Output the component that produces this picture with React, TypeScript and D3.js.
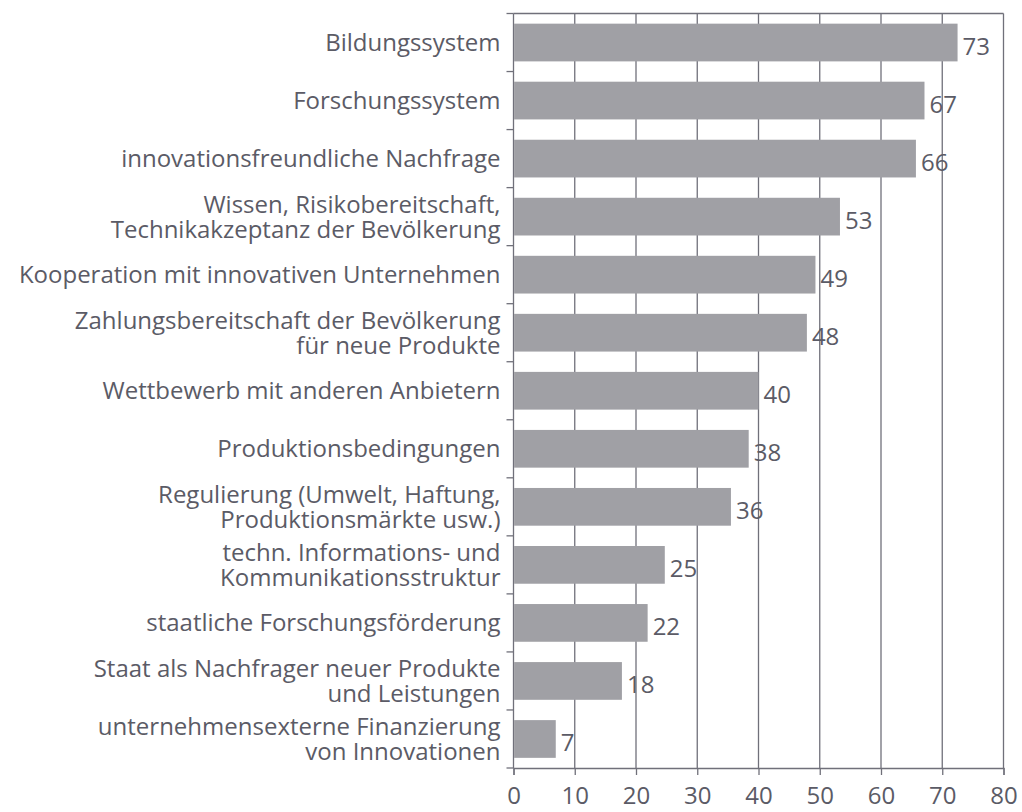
import * as d3 from 'd3';
import React, { useEffect, useRef } from 'react';

const categories = [
  ['Bildungssystem'],
  ['Forschungssystem'],
  ['innovationsfreundliche Nachfrage'],
  ['Wissen, Risikobereitschaft,', 'Technikakzeptanz der Bevölkerung'],
  ['Kooperation mit innovativen Unternehmen'],
  ['Zahlungsbereitschaft der Bevölkerung', 'für neue Produkte'],
  ['Wettbewerb mit anderen Anbietern'],
  ['Produktionsbedingungen'],
  ['Regulierung (Umwelt, Haftung,', 'Produktionsmärkte usw.)'],
  ['techn. Informations- und', 'Kommunikationsstruktur'],
  ['staatliche Forschungsförderung'],
  ['Staat als Nachfrager neuer Produkte', 'und Leistungen'],
  ['unternehmensexterne Finanzierung', 'von Innovationen'],
];

const values = [72.5, 67.1, 65.7, 53.3, 49.3, 47.9, 40.0, 38.4, 35.5, 24.7, 21.9, 17.7, 6.9];
const valueLabels = ['73', '67', '66', '53', '49', '48', '40', '38', '36', '25', '22', '18', '7'];
const xTicks = [0, 10, 20, 30, 40, 50, 60, 70, 80];

const textColor = '#5b5b66';
const lineColor = '#70707a';
const barColor = '#a0a0a5';
const font = '"Open Sans", sans-serif';

export default function App() {
  const axisBottomRef = useRef<SVGGElement>(null);
  const axisLeftRef = useRef<SVGGElement>(null);

  const width = 1022;
  const height = 812;
  const margin = { top: 13.5, right: 18.5, bottom: 44, left: 513.5 };
  const innerW = width - margin.left - margin.right;
  const innerH = height - margin.top - margin.bottom;

  const keys = categories.map((_, i) => String(i));
  const x = d3.scaleLinear().domain([0, 80]).range([0, innerW]);
  const y = d3.scaleBand().domain(keys).range([0, innerH]).paddingInner(0.35).paddingOuter(0.175);

  useEffect(() => {
    if (axisBottomRef.current) {
      const g = d3.select(axisBottomRef.current);
      g.call(d3.axisBottom(x).tickValues(xTicks).tickSize(7).tickPadding(12));
      g.select('.domain').attr('stroke', lineColor).attr('stroke-width', 1.3);
      g.selectAll('.tick line').attr('stroke', lineColor).attr('stroke-width', 1.3);
      g.selectAll('.tick text')
        .attr('fill', textColor)
        .style('font-family', font)
        .style('font-size', '24px');
    }
    if (axisLeftRef.current) {
      const g = d3.select(axisLeftRef.current);
      const step = innerH / categories.length;
      const boundaries = d3.range(categories.length + 1).map((i) => i * step);
      g.selectAll('line.tk')
        .data(boundaries)
        .join('line')
        .attr('class', 'tk')
        .attr('x1', -7)
        .attr('x2', 0)
        .attr('y1', (d) => d)
        .attr('y2', (d) => d)
        .attr('stroke', lineColor)
        .attr('stroke-width', 1.3);
    }
  }, [x, innerH]);

  return (
    <svg
      width={width}
      height={height}
      style={{ position: 'absolute', left: 0, top: 0, background: '#fff' }}
    >
      <g transform={`translate(${margin.left}, ${margin.top})`}>
        {xTicks.slice(1).map((t) => (
          <line
            key={`grid-${t}`}
            x1={x(t)}
            x2={x(t)}
            y1={0}
            y2={innerH}
            stroke={lineColor}
            strokeWidth={1.3}
          />
        ))}
        <line x1={0} x2={innerW} y1={0} y2={0} stroke={lineColor} strokeWidth={1.3} />
        <line x1={0} x2={0} y1={0} y2={innerH} stroke={lineColor} strokeWidth={1.3} />
        <g ref={axisLeftRef} />
        {values.map((v, i) => (
          <rect
            key={`bar-${i}`}
            x={0.6}
            y={y(String(i))}
            width={x(v) - 0.6}
            height={y.bandwidth()}
            fill={barColor}
          />
        ))}
        {values.map((v, i) => (
          <text
            key={`val-${i}`}
            x={x(v) + 5}
            y={(y(String(i)) || 0) + y.bandwidth() / 2 + 12}
            fill={textColor}
            fontFamily={font}
            fontSize={24}
          >
            {valueLabels[i]}
          </text>
        ))}
        {categories.map((lines, i) => {
          const cy = (y(String(i)) || 0) + y.bandwidth() / 2;
          const lh = 25;
          const first = cy - ((lines.length - 1) * lh) / 2;
          return (
            <text
              key={`cat-${i}`}
              textAnchor="end"
              fill={textColor}
              fontFamily={font}
              fontSize={24}
            >
              {lines.map((l, j) => (
                <tspan key={j} x={-13} y={first + j * lh} dy="0.35em">
                  {l}
                </tspan>
              ))}
            </text>
          );
        })}
        <g ref={axisBottomRef} transform={`translate(0, ${innerH})`} />
      </g>
    </svg>
  );
}
